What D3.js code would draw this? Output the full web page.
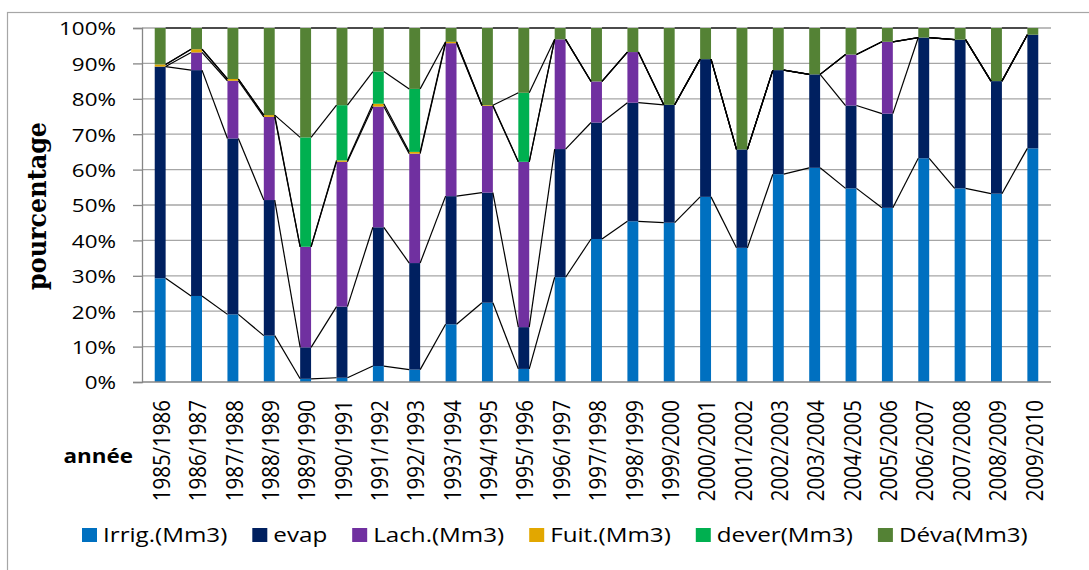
<!DOCTYPE html>
<html>
<head>
<meta charset="utf-8">
<script src="https://cdn.jsdelivr.net/npm/d3@7/dist/d3.min.js"></script>
<style>
  html, body { margin: 0; padding: 0; background: #fff; }
  svg { display: block; }
  text { font-family: "Open Sans", "Liberation Sans", sans-serif; fill: #000; }
  text.serif-title { font-family: "DejaVu Serif", "Liberation Serif", serif; font-weight: bold; }
</style>
</head>
<body>
<svg id="chart" width="1089" height="570"></svg>
<script>
// Hydrological years
const years = [
  "1985/1986", "1986/1987", "1987/1988", "1988/1989", "1989/1990",
  "1990/1991", "1991/1992", "1992/1993", "1993/1994", "1994/1995",
  "1995/1996", "1996/1997", "1997/1998", "1998/1999", "1999/2000",
  "2000/2001", "2001/2002", "2002/2003", "2003/2004", "2004/2005",
  "2005/2006", "2006/2007", "2007/2008", "2008/2009", "2009/2010"
];

// Share of each water use per year (%)
const irrig = [29.3, 24.3, 19.1, 13.1, 0.9, 1.2, 4.5, 3.5, 16.3, 22.4, 3.7, 29.6, 40.4,
               45.4, 45.0, 52.3, 37.9, 58.7, 60.5, 54.7, 49.2, 63.2, 54.7, 53.2, 66.0];
const evap  = [59.8, 63.8, 49.7, 38.3, 8.9, 20.1, 39.2, 30.1, 36.2, 31.1, 11.8, 36.2, 32.9,
               33.5, 33.3, 38.9, 27.8, 29.4, 26.4, 23.4, 26.6, 34.1, 42.0, 31.8, 32.1];
const lach  = [0, 5.0, 16.3, 23.5, 28.4, 40.9, 34.1, 30.9, 43.2, 24.5, 46.7, 31.0, 11.6,
               14.3, 0, 0, 0, 0, 0, 14.4, 20.3, 0, 0, 0, 0];
const fuit  = [0.6, 0.9, 0.5, 0.5, 0, 0.4, 0.8, 0.5, 0.4, 0.2, 0, 0, 0,
               0, 0, 0, 0, 0, 0, 0, 0, 0, 0, 0, 0];
const dever = [0, 0, 0, 0, 30.9, 15.6, 9.1, 17.8, 0, 0, 19.5, 0, 0,
               0, 0, 0, 0, 0, 0, 0, 0, 0, 0, 0, 0];
const deva  = [10.3, 6.0, 14.4, 24.6, 30.9, 21.8, 12.3, 17.2, 3.9, 21.8, 18.3, 3.2, 15.1,
               6.8, 21.7, 8.8, 34.3, 11.9, 13.1, 7.5, 3.9, 2.7, 3.3, 15.0, 1.9];

const seriesNames  = ["Irrig.(Mm3)", "evap", "Lach.(Mm3)", "Fuit.(Mm3)", "dever(Mm3)", "Déva(Mm3)"];
const seriesColors = ["#0070C0", "#002060", "#7030A0", "#E2A700", "#00B050", "#548235"];
const yTicks = [0, 0.1, 0.2, 0.3, 0.4, 0.5, 0.6, 0.7, 0.8, 0.9, 1.0];

const seriesValues = [irrig, evap, lach, fuit, dever, deva];
const rows = years.map((y, i) => {
  const r = { year: y };
  seriesNames.forEach((n, s) => { r[n] = seriesValues[s][i]; });
  return r;
});

const svg = d3.select("#chart");
const W = 1089, H = 570;
const plot = { left: 142, right: 1051, top: 28, bottom: 382 };
const SX = 1.18; // horizontal text stretch

// outer frame
svg.append("rect")
  .attr("x", 7.5).attr("y", 12.5)
  .attr("width", W + 20).attr("height", H + 20)
  .attr("fill", "none").attr("stroke", "#a6a6a6").attr("stroke-width", 1.2);

const x = d3.scaleBand()
  .domain(years)
  .range([plot.left, plot.right])
  .paddingInner(0.7)
  .paddingOuter(0.35);

const y = d3.scaleLinear().domain([0, 1]).range([plot.bottom, plot.top]);

const stack = d3.stack().keys(seriesNames).offset(d3.stackOffsetExpand);
const layers = stack(rows);

// gridlines
svg.append("g")
  .selectAll("line")
  .data(yTicks.filter(t => t > 0))
  .join("line")
  .attr("x1", plot.left).attr("x2", plot.right)
  .attr("y1", d => y(d)).attr("y2", d => y(d))
  .attr("stroke", "#a6a6a6").attr("stroke-width", 1.3);

// y axis
const yAxis = d3.axisLeft(y)
  .tickValues(yTicks)
  .tickSize(9)
  .tickFormat(d3.format(".0%"));
const gy = svg.append("g")
  .attr("transform", `translate(${plot.left},0)`)
  .call(yAxis);
gy.attr("font-family", null).attr("font-size", null);
gy.select(".domain").attr("stroke", "#868686").attr("stroke-width", 1.3);
gy.selectAll(".tick line").attr("stroke", "#868686").attr("stroke-width", 1.3);
gy.selectAll(".tick text")
  .attr("x", null).attr("dy", null)
  .attr("text-anchor", "end")
  .style("font-size", "19px")
  .attr("fill", "#000")
  .attr("transform", `translate(${116 - plot.left},6.8) scale(${SX},1)`);

// bars
svg.append("g")
  .selectAll("g")
  .data(layers)
  .join("g")
  .attr("fill", (d, i) => seriesColors[i])
  .selectAll("rect")
  .data(d => d.map(p => ({ p, year: p.data.year })))
  .join("rect")
  .attr("x", d => x(d.year))
  .attr("width", x.bandwidth())
  .attr("y", d => y(d.p[1]))
  .attr("height", d => Math.max(0, y(d.p[0]) - y(d.p[1])));

// x axis baseline
svg.append("line")
  .attr("x1", plot.left).attr("x2", plot.right)
  .attr("y1", plot.bottom).attr("y2", plot.bottom)
  .attr("stroke", "#868686").attr("stroke-width", 1.3);

// series lines joining segment tops between neighbouring bars
const seriesLines = svg.append("g")
  .attr("stroke", "#000").attr("stroke-width", 1.2).attr("fill", "none");
layers.forEach(layer => {
  for (let i = 0; i < layer.length - 1; i++) {
    const a = layer[i], b = layer[i + 1];
    seriesLines.append("line")
      .attr("x1", x(a.data.year) + x.bandwidth())
      .attr("y1", y(a[1]))
      .attr("x2", x(b.data.year))
      .attr("y2", y(b[1]));
  }
});

// x category labels (rotated)
svg.append("g")
  .selectAll("text")
  .data(years)
  .join("text")
  .attr("transform", d => `translate(${x(d) + x.bandwidth() / 2 + 1},400) scale(${SX},1) rotate(-90)`)
  .attr("text-anchor", "end")
  .attr("dy", "0.36em")
  .style("font-size", "20.5px")
  .text(d => d);

// axis titles
svg.append("text")
  .attr("class", "serif-title")
  .attr("transform", `translate(38,206) scale(${SX},1) rotate(-90)`)
  .attr("text-anchor", "middle")
  .attr("dy", "0.3em")
  .style("font-size", "22px")
  .attr("textLength", 168)
  .attr("lengthAdjust", "spacingAndGlyphs")
  .text("pourcentage");

svg.append("text")
  .attr("transform", `translate(133,463) scale(${SX},1)`)
  .attr("text-anchor", "end")
  .style("font-weight", "bold")
  .style("font-size", "19px")
  .text("année");

// legend
const legend = svg.append("g");
let lx = 82;
seriesNames.forEach((name, i) => {
  legend.append("rect")
    .attr("x", lx).attr("y", 528)
    .attr("width", 15).attr("height", 14)
    .attr("fill", seriesColors[i]);
  const t = legend.append("text")
    .attr("transform", `translate(${lx + 21},542) scale(${SX},1)`)
    .style("font-size", "20.5px")
    .text(name);
  const w = t.node().getComputedTextLength() * SX;
  lx += 21 + w + 25;
});
</script>
</body>
</html>
